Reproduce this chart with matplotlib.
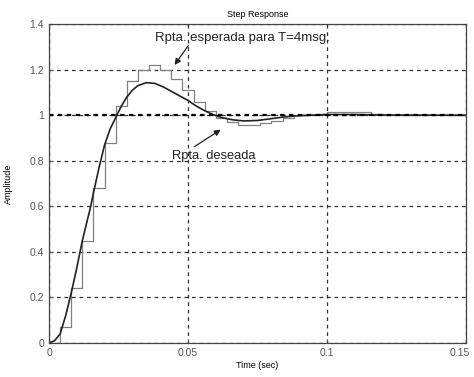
import matplotlib
matplotlib.use("Agg")
import matplotlib.pyplot as plt
import matplotlib.transforms as mtransforms
import numpy as np

plt.rcParams['font.family'] = ['Liberation Sans', 'DejaVu Sans']

# continuous (desired) response
t_cont = [0, 0.002, 0.004, 0.006, 0.008, 0.010, 0.012, 0.014, 0.015, 0.016, 0.018,
          0.020, 0.022, 0.024, 0.026, 0.028, 0.030, 0.032, 0.035, 0.038, 0.041,
          0.044, 0.047, 0.050, 0.053, 0.056, 0.059, 0.062, 0.066, 0.070, 0.075,
          0.080, 0.085, 0.090, 0.100, 0.110, 0.120, 0.150]
y_cont = [0, 0.01, 0.04, 0.12, 0.22, 0.33, 0.45, 0.55, 0.60, 0.66, 0.77,
          0.87, 0.94, 0.99, 1.04, 1.08, 1.11, 1.13, 1.143, 1.14, 1.125,
          1.105, 1.085, 1.065, 1.04, 1.02, 1.003, 0.99, 0.98, 0.975, 0.977,
          0.985, 0.993, 0.998, 1.003, 1.003, 1.001, 1.0]

# sampled response, T = 4 ms
t_disc = [0, 0.004, 0.008, 0.012, 0.016, 0.020, 0.024, 0.028, 0.032, 0.036,
          0.040, 0.044, 0.048, 0.052, 0.056, 0.060, 0.064, 0.068, 0.072, 0.076,
          0.080, 0.084, 0.088, 0.092, 0.096, 0.100, 0.104, 0.108, 0.112, 0.116,
          0.120, 0.150]
y_disc = [0, 0.07, 0.24, 0.45, 0.68, 0.88, 1.04, 1.15, 1.20, 1.22,
          1.20, 1.16, 1.11, 1.06, 1.02, 0.99, 0.97, 0.955, 0.955, 0.965,
          0.975, 0.99, 1.0, 1.0, 1.005, 1.015, 1.015, 1.015, 1.015, 1.005,
          1.0, 1.0]

xticks = [0, 0.05, 0.1, 0.15]
xtick_labels = ['0', '0.05', '0.1', '0.15']
yticks = [0, 0.2, 0.4, 0.6, 0.8, 1, 1.2, 1.4]
ytick_labels = ['0', '0.2', '0.4', '0.6', '0.8', '1', '1.2', '1.4']

fig = plt.figure(figsize=(4.74, 3.77), dpi=100)
ax = fig.add_axes([0.1034, 0.0902, 0.8797, 0.8458])

ax.step(t_disc, y_disc, where='post', color='#808080', lw=0.9)
ax.plot(t_cont, y_cont, color='#222222', lw=1.2)
ax.axhline(1.0, color='black', lw=1.6, ls=(0, (2, 2)))

ax.set_xlim(0, 0.15)
ax.set_ylim(0, 1.4)
ax.set_xticks(xticks)
ax.set_xticklabels(xtick_labels)
ax.set_yticks(yticks)
ax.set_yticklabels(ytick_labels)
ax.grid(True, color='#333333', ls=(0, (3, 3)), lw=0.9)
ax.tick_params(labelsize=7.5, colors='#555555', length=3, direction='in')
for s in ax.spines.values():
    s.set_color('#444444')
    s.set_linewidth(0.9)

# last x label sits right at the figure edge, nudge it in a bit
last = ax.get_xticklabels()[-1]
last.set_transform(last.get_transform() + mtransforms.ScaledTranslation(-6 / 100, 0, fig.dpi_scale_trans))

ax.set_title('Step Response', fontsize=6.5, pad=5)
ax.set_xlabel('Time (sec)', fontsize=6.5, labelpad=2)
ax.set_ylabel('Amplitude', fontsize=6.5, labelpad=12)

arrow = dict(arrowstyle='-|>', color='#222222', lw=0.9, mutation_scale=9)
ax.text(0.0382, 1.34, 'Rpta. esperada para T=4msg.', fontsize=9.5, color='#222222', va='center')
ax.annotate('', xy=(0.0446, 1.211), xytext=(0.0507, 1.316), arrowprops=arrow)
ax.text(0.0443, 0.82, 'Rpta. deseada', fontsize=9.3, color='#222222', va='center')
ax.annotate('', xy=(0.0626, 0.943), xytext=(0.0514, 0.855), arrowprops=arrow)

fig.savefig('out.png', dpi=100)
